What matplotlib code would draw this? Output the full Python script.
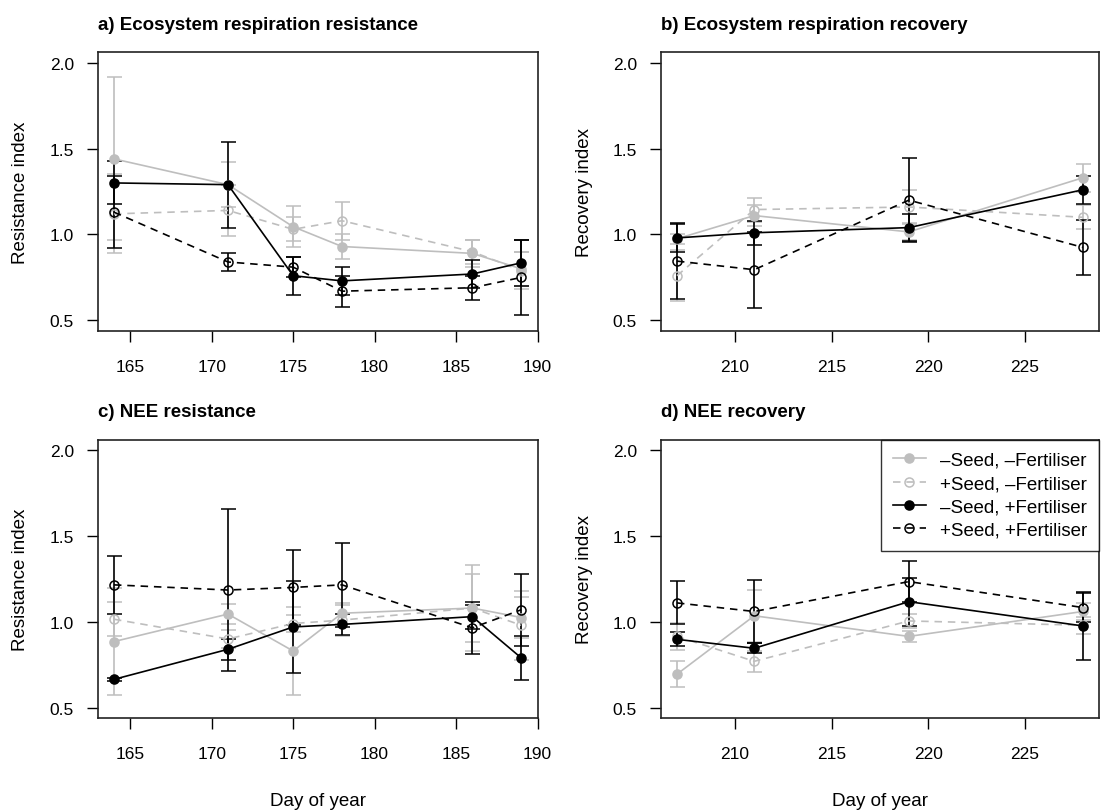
import matplotlib
matplotlib.use("Agg")
import matplotlib.pyplot as plt
from matplotlib.lines import Line2D

plt.rcParams['font.family'] = ['Liberation Sans', 'DejaVu Sans']

# days of sampling
days_res = [164, 171, 175, 178, 186, 189]
days_rec = [207, 211, 219, 228]

# a) ecosystem respiration resistance
a_mSmF = [1.44, 1.29, 1.045, 0.93, 0.89, 0.80]
a_mSmF_se = [0.475, 0.13, 0.12, 0.075, 0.08, 0.10]
a_pSmF = [1.12, 1.14, 1.03, 1.08, 0.90, 0.79]
a_pSmF_se = [0.23, 0.15, 0.07, 0.11, 0.07, 0.11]
a_mSpF = [1.30, 1.29, 0.76, 0.73, 0.77, 0.835]
a_mSpF_se = [0.125, 0.25, 0.11, 0.08, 0.08, 0.135]
a_pSpF = [1.13, 0.84, 0.81, 0.67, 0.69, 0.75]
a_pSpF_se = [0.21, 0.055, 0.06, 0.09, 0.07, 0.22]

# b) ecosystem respiration recovery
b_mSmF = [0.975, 1.11, 1.015, 1.33]
b_mSmF_se = [0.03, 0.06, 0.05, 0.08]
b_pSmF = [0.76, 1.145, 1.16, 1.10]
b_pSmF_se = [0.15, 0.07, 0.10, 0.07]
b_mSpF = [0.98, 1.01, 1.04, 1.26]
b_mSpF_se = [0.08, 0.07, 0.08, 0.08]
b_pSpF = [0.845, 0.795, 1.20, 0.925]
b_pSpF_se = [0.22, 0.22, 0.245, 0.16]

# c) NEE resistance
c_mSmF = [0.885, 1.045, 0.83, 1.05, 1.08, 1.025]
c_mSmF_se = [0.31, 0.06, 0.255, 0.06, 0.25, 0.12]
c_pSmF = [1.015, 0.90, 0.99, 1.01, 1.08, 0.98]
c_pSmF_se = [0.10, 0.05, 0.05, 0.09, 0.20, 0.20]
c_mSpF = [0.665, 0.84, 0.97, 0.985, 1.03, 0.79]
c_mSpF_se = [0.01, 0.06, 0.27, 0.06, 0.07, 0.13]
c_pSpF = [1.215, 1.185, 1.20, 1.215, 0.965, 1.07]
c_pSpF_se = [0.17, 0.47, 0.22, 0.245, 0.15, 0.21]

# d) NEE recovery
d_mSmF = [0.695, 1.035, 0.915, 1.06]
d_mSmF_se = [0.075, 0.15, 0.03, 0.05]
d_pSmF = [0.915, 0.77, 1.005, 0.98]
d_pSmF_se = [0.08, 0.06, 0.04, 0.05]
d_mSpF = [0.898, 0.846, 1.117, 0.976]
d_mSpF_se = [0.04, 0.03, 0.14, 0.20]
d_pSpF = [1.11, 1.06, 1.234, 1.083]
d_pSpF_se = [0.125, 0.185, 0.12, 0.085]

labels = ["\u2013Seed, \u2013Fertiliser", "+Seed, \u2013Fertiliser",
          "\u2013Seed, +Fertiliser", "+Seed, +Fertiliser"]
grey = "#bebebe"
dash = (0, (4.5, 3.5))
styles = [(grey, "-", grey), (grey, dash, "none"),
          ("black", "-", "black"), ("black", dash, "none")]

fig = plt.figure(figsize=(11.01, 8.12), dpi=100)
ax_a = fig.add_axes([0.0887, 0.5915, 0.3995, 0.3428])
ax_b = fig.add_axes([0.6001, 0.5915, 0.3981, 0.3428])
ax_c = fig.add_axes([0.0887, 0.1145, 0.3995, 0.3428])
ax_d = fig.add_axes([0.6001, 0.1145, 0.3981, 0.3428])


def panel(ax, x, series, title, ylab, xlim, xticks, xlab):
    for (y, se), (col, ls, fc) in zip(series, styles):
        ax.errorbar(x, y, yerr=se, color=col, ls=ls, lw=1.2, marker="o",
                    ms=6.5, mfc=fc, mec=col, mew=1.1, capsize=5.4,
                    elinewidth=1.2, capthick=1.2)
    ax.set_xlim(xlim)
    ax.set_ylim(0.44, 2.06)
    ax.set_xticks(xticks)
    ax.set_yticks([0.5, 1.0, 1.5, 2.0])
    ax.set_yticklabels(["0.5", "1.0", "1.5", "2.0"])
    ax.tick_params(direction="out", length=8, width=1, labelsize=12.5,
                   pad=9)
    ax.tick_params(axis="x", pad=12.5)
    for s in ax.spines.values():
        s.set_linewidth(1.2)
        s.set_color("#222222")
    ax.set_title(title, loc="left", fontsize=13.5, fontweight="bold", pad=17)
    ax.set_ylabel(ylab, fontsize=13.5)
    ax.yaxis.set_label_coords(-0.155, 0.5)
    if xlab:
        ax.set_xlabel(xlab, fontsize=13.5, labelpad=22)


panel(ax_a, days_res,
      [(a_mSmF, a_mSmF_se), (a_pSmF, a_pSmF_se), (a_mSpF, a_mSpF_se), (a_pSpF, a_pSpF_se)],
      "a) Ecosystem respiration resistance", "Resistance index",
      (163, 190), [165, 170, 175, 180, 185, 190], None)
panel(ax_b, days_rec,
      [(b_mSmF, b_mSmF_se), (b_pSmF, b_pSmF_se), (b_mSpF, b_mSpF_se), (b_pSpF, b_pSpF_se)],
      "b) Ecosystem respiration recovery", "Recovery index",
      (206.16, 228.84), [210, 215, 220, 225], None)
panel(ax_c, days_res,
      [(c_mSmF, c_mSmF_se), (c_pSmF, c_pSmF_se), (c_mSpF, c_mSpF_se), (c_pSpF, c_pSpF_se)],
      "c) NEE resistance", "Resistance index",
      (163, 190), [165, 170, 175, 180, 185, 190], "Day of year")
panel(ax_d, days_rec,
      [(d_mSmF, d_mSmF_se), (d_pSmF, d_pSmF_se), (d_mSpF, d_mSpF_se), (d_pSpF, d_pSpF_se)],
      "d) NEE recovery", "Recovery index",
      (206.16, 228.84), [210, 215, 220, 225], "Day of year")

handles = []
for (col, ls, fc) in styles:
    handles.append(Line2D([], [], color=col, ls=ls, lw=1.2, marker="o",
                          ms=6.5, mfc=fc, mec=col, mew=1.1))
leg = ax_d.legend(handles, labels, loc="upper right", fontsize=13.5,
                  frameon=True, fancybox=False, borderaxespad=0,
                  handlelength=1.75, handletextpad=0.75,
                  labelspacing=0.32, borderpad=0.65)
leg.get_frame().set_edgecolor("black")
leg.get_frame().set_linewidth(1.0)

fig.savefig("out.png", dpi=100)
